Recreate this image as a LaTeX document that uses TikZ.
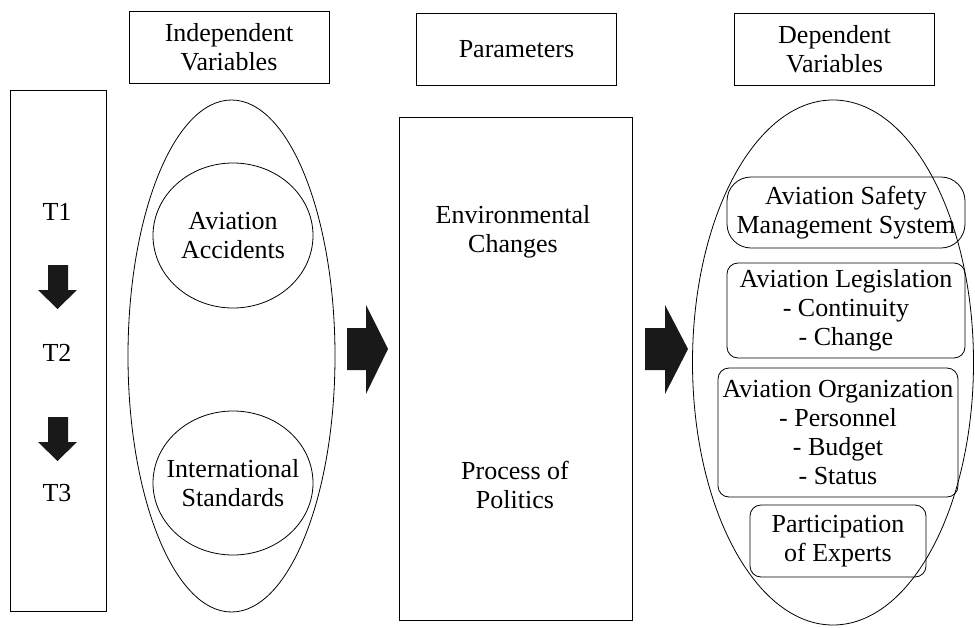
\documentclass[tikz,border=0pt]{standalone}
\usepackage{fontspec}
\setmainfont{Liberation Serif}
\usetikzlibrary{shapes.geometric}
\begin{document}
\begin{tikzpicture}[x=1pt,y=-1pt,line width=0.8pt,
    every node/.style={font=\fontsize{26}{29}\selectfont,align=center,inner sep=0pt},
    hdr/.style={draw,rectangle,minimum width=200pt,minimum height=72pt},
    oval/.style={draw,ellipse},
    rbox/.style={draw,rectangle,rounded corners=11pt}]
  \useasboundingbox (0,0) rectangle (975,627);
  \node[hdr] (indep) at (229,47) {Independent\\Variables};
  \node[hdr] (param) at (516.5,49) {Parameters};
  \node[hdr] (dep) at (834.5,49.5) {Dependent\\Variables};
  \node[draw,rectangle,minimum width=96pt,minimum height=521pt] (time) at (58,350.5) {};
  \node (t1) at (57,212) {T1};
  \node (t2) at (57,353) {T2};
  \node (t3) at (57,493) {T3};
  \foreach \yy in {265,417}
    \fill[black!90] (48,\yy) -- (68,\yy) -- (68,\yy+25) -- (77,\yy+25) -- (57.5,\yy+44)
      -- (38,\yy+25) -- (48,\yy+25) -- cycle;
  \node[oval,minimum width=207pt,minimum height=512pt] (indepall) at (231.5,356) {};
  \node[oval,minimum width=160pt,minimum height=145pt] (accid) at (233,235.5) {};
  \node at (accid) {Aviation\\Accidents};
  \node[oval,minimum width=160pt,minimum height=144pt] (intl) at (233,483) {};
  \node at (intl) {International\\Standards};
  \fill[black!90] (347,328) -- (366,328) -- (366,305) -- (388,349) -- (366,394) -- (366,370) -- (347,370) -- cycle;
  \node[draw,rectangle,minimum width=233pt,minimum height=503pt] (parbox) at (515.5,368.5) {};
  \node (env) at (513,232) {Environmental\\Changes};
  \node (pol) at (515,485) {Process of\\Politics};
  \fill[black!90] (645,328) -- (665,328) -- (665,305) -- (688,349) -- (665,394) -- (665,370) -- (645,370) -- cycle;
  \node[oval,minimum width=281pt,minimum height=525pt] (depall) at (833,362.5) {};
  \node[rbox,rounded corners=24pt,minimum width=238pt,minimum height=71pt] (sms) at (846,212.5) {Aviation Safety\\Management System};
  \node[rbox,minimum width=238pt,minimum height=95pt] (legis) at (846,310.5) {Aviation Legislation\\- Continuity\\- Change};
  \node[rbox,minimum width=240pt,minimum height=129pt] (org) at (838,432.5) {Aviation Organization\\- Personnel\\- Budget\\- Status};
  \node[rbox,minimum width=176pt,minimum height=72pt] (expert) at (838,541) {Participation\\of Experts};
\end{tikzpicture}
\end{document}
